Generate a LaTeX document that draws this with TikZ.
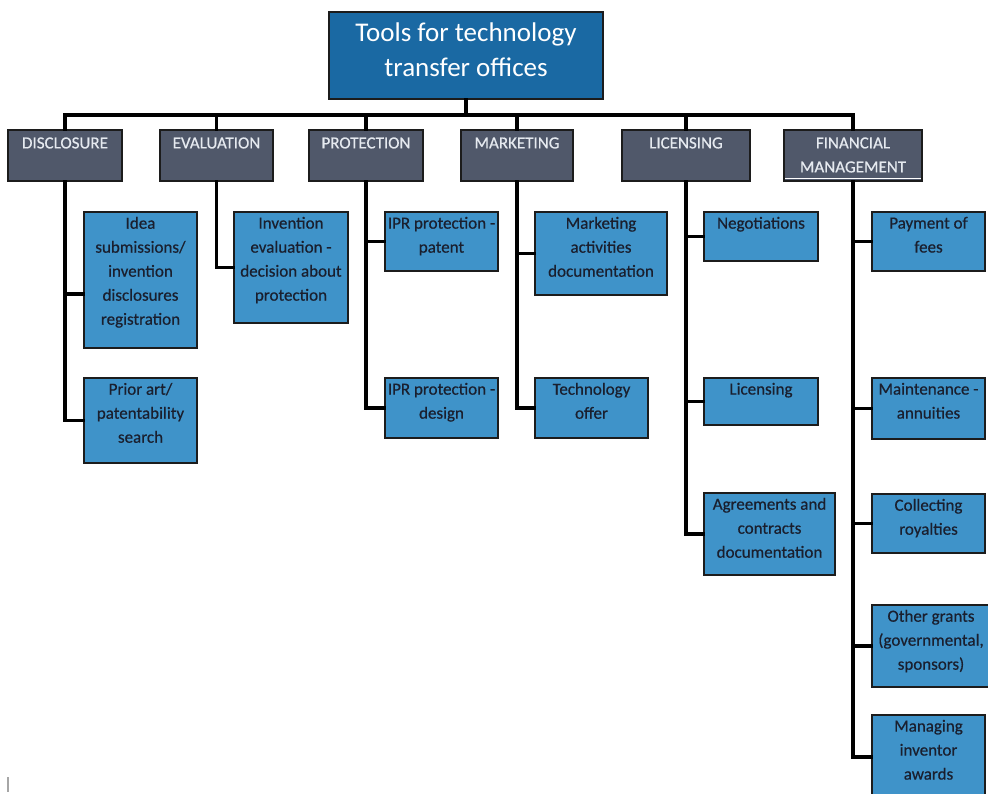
\documentclass[tikz,border=0pt]{standalone}
\usepackage{fontspec}
\setmainfont{Carlito}
\newfontfamily\boxfont{Carlito}[FakeBold=0.5]

\definecolor{titlefill}{HTML}{1A69A3}
\definecolor{catfill}{HTML}{50586A}
\definecolor{itemfill}{HTML}{3F93C9}
\definecolor{boxedge}{HTML}{1C1C1C}
\definecolor{cattext}{HTML}{E6EAF0}
\definecolor{itemtext}{HTML}{1A1F2E}

% \mkbox{style}{label style}{name}{x1}{y1}{x2}{y2}{text}
% draws a box by its corners (y measured downwards) with its text set at the top
\newcommand\mkbox[8]{%
  \node[#1, minimum width={#6pt-#4pt}, minimum height={#7pt-#5pt},
        label={[#2]north:{#8}}]
    (#3) at ({(#4+#6)/2},{-(#5+#7)/2}) {};}

\tikzset{
  boxbase/.style={draw=boxedge, line width=1.6pt, rectangle, inner sep=0pt},
  titlebox/.style={boxbase, fill=titlefill},
  catbox/.style={boxbase, fill=catfill},
  itembox/.style={boxbase, fill=itemfill},
  titletext/.style={anchor=north, inner sep=0pt, yshift=-11.5pt, align=center,
    text=white, font=\fontsize{27}{35}\selectfont},
  cattxt/.style={anchor=north, inner sep=0pt, yshift=-8pt, align=center,
    text=cattext, font=\boxfont\fontsize{17}{24}\selectfont},
  itemtxt/.style={anchor=north, inner sep=0pt, yshift=-5.5pt, align=center,
    text=itemtext, font=\boxfont\fontsize{17}{24}\selectfont},
  link/.style={draw=black, line width=3.5pt, line cap=rect},
}

\begin{document}
\begin{tikzpicture}[x=1pt, y=1pt]
\useasboundingbox (0,0) rectangle (988,-793);

% root
\mkbox{titlebox}{titletext}{root}{329}{12}{603}{99}{Tools for technology\\transfer offices}

% categories
\mkbox{catbox}{cattxt}{disc}{8}{130}{122}{181}{DISCLOSURE}
\mkbox{catbox}{cattxt}{eval}{160}{130}{273}{181}{EVALUATION}
\mkbox{catbox}{cattxt}{prot}{309}{130}{423}{181}{PROTECTION}
\mkbox{catbox}{cattxt}{mark}{461}{130}{573}{181}{MARKETING}
\mkbox{catbox}{cattxt}{lic}{622}{130}{750}{181}{LICENSING}
\mkbox{catbox}{cattxt}{fin}{784}{130}{922}{181}{FINANCIAL\\MANAGEMENT}
\draw[white, line width=1.3pt] ([xshift=2pt,yshift=3.5pt]fin.south west) -- ([xshift=-2pt,yshift=3.5pt]fin.south east);

% tools
\mkbox{itembox}{itemtxt}{d1}{84}{212}{197}{348}{Idea\\submissions/\\invention\\disclosures\\registration}
\mkbox{itembox}{itemtxt}{d2}{84}{378}{197}{463}{Prior art/\\patentability\\search}
\mkbox{itembox}{itemtxt}{e1}{234}{212}{348}{323}{Invention\\evaluation -\\decision about\\protection}
\mkbox{itembox}{itemtxt}{p1}{385}{212}{498}{271}{IPR protection -\\patent}
\mkbox{itembox}{itemtxt}{p2}{385}{378}{498}{438}{IPR protection -\\design}
\mkbox{itembox}{itemtxt}{m1}{535}{212}{667}{295}{Marketing\\activities\\documentation}
\mkbox{itembox}{itemtxt}{m2}{535}{378}{648}{438}{Technology\\offer}
\mkbox{itembox}{itemtxt}{l1}{704}{212}{818}{261}{Negotiations}
\mkbox{itembox}{itemtxt}{l2}{704}{378}{818}{425}{Licensing}
\mkbox{itembox}{itemtxt}{l3}{704}{493}{835}{575}{Agreements and\\contracts\\documentation}
\mkbox{itembox}{itemtxt}{f1}{872}{212}{985}{271}{Payment of\\fees}
\mkbox{itembox}{itemtxt}{f2}{872}{378}{985}{439}{Maintenance -\\annuities}
\mkbox{itembox}{itemtxt}{f3}{872}{494}{985}{553}{Collecting\\royalties}
\mkbox{itembox}{itemtxt}{f4}{872}{605}{990}{687}{Other grants\\(governmental,\\sponsors)}
\mkbox{itembox}{itemtxt}{f5}{872}{715}{985}{799}{Managing\\inventor\\awards}

% root to categories
\coordinate (bus) at (0,-115);
\draw[link] (root.south) -- (root.south |- bus);
\draw[link] (disc.north) |- (bus -| fin.north) -- (fin.north);
\foreach \c in {eval,prot,mark,lic}
  \draw[link] (\c.north) -- (\c.north |- bus);

% categories to tools
\draw[link] (disc.south) |- (d2.west);
\draw[link] ([yshift=-14pt]disc.south |- d1.west) -- ([yshift=-14pt]d1.west);
\draw[link] (eval.south) |- (e1.west);
\draw[link] (prot.south) |- (p2.west);
\draw[link] (prot.south |- p1.west) -- (p1.west);
\draw[link] (mark.south) |- (m2.west);
\draw[link] (mark.south |- m1.west) -- (m1.west);
\draw[link] (lic.south) |- (l3.west);
\foreach \t in {l1,l2}
  \draw[link] (lic.south |- \t.west) -- (\t.west);
\draw[link] (fin.south) |- (f5.west);
\foreach \t in {f1,f2,f3,f4}
  \draw[link] (fin.south |- \t.west) -- (\t.west);

% text cursor mark at the lower left
\draw[gray!70, line width=1.2pt] (8,-777) -- (8,-792);
\end{tikzpicture}
\end{document}
